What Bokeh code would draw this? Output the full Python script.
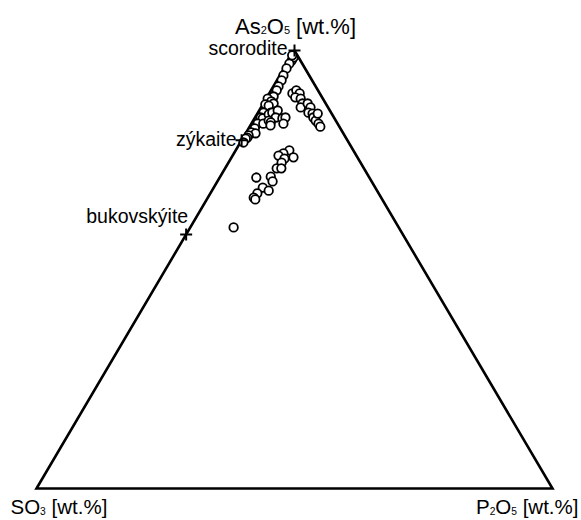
from bokeh.plotting import figure
from bokeh.models import Range1d, ColumnDataSource
from bokeh.core.properties import value
from bokeh.embed import file_html
from bokeh.resources import INLINE

# measured compositions (wt.%), normalized ternary
as2o5 = [97.7, 98.4, 97.0, 98.9, 95.9, 94.3, 93.2, 91.8, 90.9, 89.5, 89.0, 88.4, 87.9, 87.7, 87.4,
         85.8, 84.7, 84.5, 83.3, 83.3, 82.2, 81.3, 81.1, 80.6, 80.1, 79.9, 79.0,
         85.8, 85.4, 85.8, 86.3, 84.7, 84.0, 83.6, 82.9, 84.5, 84.7, 83.3,
         90.2, 90.9, 90.2, 89.3, 89.0, 87.9, 87.0, 87.9, 87.0, 85.8, 85.6, 84.7, 84.0, 83.3, 82.6, 85.6,
         77.2, 76.5, 76.0, 75.3, 75.6, 74.4, 73.1, 73.1, 71.2, 71.0, 70.1, 68.7, 68.0, 67.4, 66.4, 66.0, 59.6]
p2o5 = [0.6, 0.6, 0.5, 0.1, 0.5, 0.7, 0.9, 1.0, 1.1, 1.2, 0.3, 1.3, 2.0, 0.5, 1.3,
        1.1, 1.1, 1.6, 1.2, 2.3, 1.2, 1.0, 1.9, 0.8, 0.8, 0.6, 0.6,
        2.5, 2.3, 2.8, 3.6, 4.0, 3.0, 3.6, 3.9, 5.4, 5.9, 6.2,
        4.5, 4.9, 5.9, 5.5, 6.7, 7.6, 7.7, 8.6, 9.6, 9.8, 10.7, 11.3, 12.1, 13.0, 13.7, 11.7,
        10.4, 9.6, 8.9, 10.4, 12.0, 10.3, 10.0, 10.9, 9.8, 7.1, 10.7, 9.5, 11.0, 9.1, 8.9, 9.4, 8.4]
so3 = [1.7, 1.0, 2.5, 1.0, 3.6, 5.0, 5.9, 7.2, 8.0, 9.3, 10.7, 10.3, 10.1, 11.8, 11.3,
       13.1, 14.2, 13.9, 15.5, 14.4, 16.6, 17.7, 17.0, 18.6, 19.1, 19.5, 20.4,
       11.7, 12.3, 11.4, 10.1, 11.3, 13.0, 12.8, 13.2, 10.1, 9.4, 10.5,
       5.3, 4.2, 3.9, 5.2, 4.3, 4.5, 5.3, 3.5, 3.4, 4.4, 3.7, 4.0, 3.9, 3.7, 3.7, 2.7,
       12.4, 13.9, 15.1, 14.3, 12.4, 15.3, 16.9, 16.0, 19.0, 21.9, 19.2, 21.8, 21.0, 23.5, 24.7, 24.6, 32.0]

# reference minerals
ref_names = ["scorodite", "zýkaite", "bukovskýite"]
ref_as2o5 = [100.0, 79.5, 58.0]
ref_p2o5 = [0.0, 0.0, 0.0]
ref_so3 = [0.0, 20.5, 42.0]

# corner labels as (text, is_subscript) pieces
label_as = [("As", False), ("2", True), ("O", False), ("5", True), (" [wt.%]", False)]
label_so = [("SO", False), ("3", True), (" [wt.%]", False)]
label_p = [("P", False), ("2", True), ("O", False), ("5", True), (" [wt.%]", False)]

# approximate Liberation Sans advance widths (em)
W = {"A": 0.667, "s": 0.5, "O": 0.778, "S": 0.667, "P": 0.667, " ": 0.278, "[": 0.278,
     "w": 0.722, "t": 0.278, ".": 0.278, "%": 0.889, "]": 0.278, "2": 0.556, "3": 0.556, "5": 0.556}


def tern(a, p, s):
    xs, ys = [], []
    for ai, pi, si in zip(a, p, s):
        t = ai + pi + si
        xs.append((pi + ai / 2.0) / t)
        ys.append(ai / t)
    return xs, ys


p = figure(width=581, height=520, output_backend="svg", toolbar_location=None,
           x_range=Range1d(-0.069767, 1.056202), y_range=Range1d(-0.073059, 1.114155),
           min_border=0, outline_line_color=None)
p.xaxis.visible = False
p.yaxis.visible = False
p.grid.visible = False
p.background_fill_color = "white"
p.border_fill_color = "white"

# triangle frame
vx, vy = tern([100, 0, 0, 100], [0, 0, 100, 0], [0, 100, 0, 0])
p.line(vx, vy, line_color="black", line_width=2.6, line_join="miter")

# data points
dx, dy = tern(as2o5, p2o5, so3)
p.scatter(dx, dy, marker="circle", size=8.5, fill_color="white", line_color="black", line_width=1.8)

# reference minerals
rx, ry = tern(ref_as2o5, ref_p2o5, ref_so3)
p.scatter(rx, ry, marker="cross", size=12, line_color="black", line_width=2.0)

font = value("Liberation Sans")
src = ColumnDataSource(dict(x=rx, y=ry, t=ref_names,
                            xo=[-7, -5, 2], yo=[-2, -1, -18]))
p.text(x="x", y="y", text="t", x_offset="xo", y_offset="yo", source=src,
       text_font=font, text_font_size="19.5px", text_align="right",
       text_baseline="alphabetic", text_color="black")


def w_of(txt, fs):
    return sum(W.get(c, 0.55) for c in txt) * fs


def piece_label(x, y, pieces, size, x0, y0):
    """Place a label with subscripts, starting x0 px right of (x, y) and baseline y0 px below."""
    sub = size * 0.5
    cur = x0
    for txt, is_sub in pieces:
        fs = sub if is_sub else size
        lead = len(txt) - len(txt.lstrip(" "))
        cur += w_of(" " * lead, fs)
        body = txt.lstrip(" ")
        p.text(x=[x], y=[y], text=[body], x_offset=cur, y_offset=y0 + (4 if is_sub else 0),
               text_font=font, text_font_size=f"{fs}px", text_align="left",
               text_baseline="alphabetic", text_color="black")
        cur += w_of(body, fs)


def piece_width(pieces, size):
    return sum(w_of(t, size * 0.5 if s else size) for t, s in pieces)


# top label centred over apex
p_size = 22
piece_label(vx[0], vy[0], label_as, p_size, -piece_width(label_as, p_size) / 2 + 1, -24)
# bottom-left
b_size = 20.5
piece_label(vx[1], vy[1], label_so, b_size, -26, 18)
# bottom-right, right edge ~26 px right of vertex
piece_label(vx[2], vy[2], label_p, b_size, 26 - piece_width(label_p, b_size), 18)

open("out.html", "w").write(file_html(p, INLINE))
